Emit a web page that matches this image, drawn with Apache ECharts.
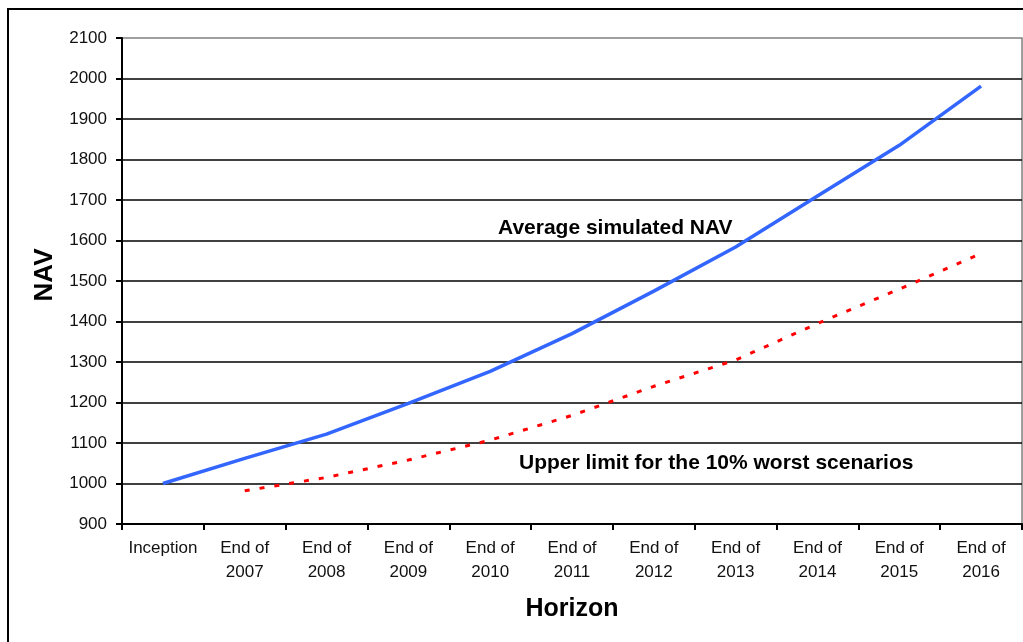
<!DOCTYPE html>
<html>
<head>
<meta charset="utf-8">
<script src="https://cdn.jsdelivr.net/npm/echarts@6/dist/echarts.min.js"></script>
<style>
  html, body { margin: 0; padding: 0; background: #fff; }
  #chart { width: 1023px; height: 642px; }
</style>
</head>
<body>
<div id="chart"></div>
<script>
// 横轴类别
const categories = ['Inception', 'End of\n2007', 'End of\n2008', 'End of\n2009', 'End of\n2010',
    'End of\n2011', 'End of\n2012', 'End of\n2013', 'End of\n2014', 'End of\n2015', 'End of\n2016'];

// 平均模拟净值
const averageNav = [1000, 1062, 1122, 1198, 1277, 1370, 1475, 1584, 1710, 1835, 1981];

// 最差10%情景上限 (起点无值)
const worstNav = [null, 982, 1015, 1058, 1107, 1168, 1240, 1305, 1395, 1480, 1568];

// 纵轴范围
const yMin = 900;
const yMax = 2100;
const yStep = 100;

const chart = echarts.init(document.getElementById('chart'));

const option = {
    animation: false,
    backgroundColor: '#fff',
    grid: {
        left: 122,
        right: 1,
        top: 38,
        bottom: 118,
        show: true,
        borderColor: '#808080',
        borderWidth: 1.5
    },
    xAxis: {
        type: 'category',
        data: categories,
        boundaryGap: true,
        name: 'Horizon',
        nameLocation: 'middle',
        nameGap: 73,
        nameTextStyle: {
            fontFamily: 'Liberation Sans, Arial, sans-serif',
            fontSize: 25,
            fontWeight: 'bold',
            color: '#000'
        },
        axisLine: { lineStyle: { color: '#000', width: 2 } },
        axisTick: { show: true, length: 6, lineStyle: { color: '#000', width: 2 } },
        axisLabel: {
            interval: 0,
            margin: 12,
            fontFamily: 'Liberation Sans, Arial, sans-serif',
            fontSize: 17,
            lineHeight: 24,
            color: '#111'
        },
        splitLine: { show: false }
    },
    yAxis: {
        type: 'value',
        min: yMin,
        max: yMax,
        interval: yStep,
        name: 'NAV',
        nameLocation: 'middle',
        nameGap: 61,
        nameTextStyle: {
            fontFamily: 'Liberation Sans, Arial, sans-serif',
            fontSize: 26,
            fontWeight: 'bold',
            color: '#000',
            padding: [0, 0, 0, 12]
        },
        axisLine: { show: true, lineStyle: { color: '#000', width: 2 } },
        axisTick: { show: true, length: 6, lineStyle: { color: '#000', width: 2 } },
        axisLabel: {
            margin: 15,
            fontFamily: 'Liberation Sans, Arial, sans-serif',
            fontSize: 17,
            color: '#111',
            formatter: function(v) { return String(v); }
        },
        splitLine: {
            show: true,
            showMaxLine: false,
            lineStyle: { color: '#000', width: 1.5 }
        }
    },
    series: [
        {
            name: 'Average simulated NAV',
            type: 'line',
            data: averageNav,
            symbol: 'none',
            lineStyle: { color: '#3366ff', width: 3.5 },
            z: 3
        },
        {
            name: 'Upper limit for the 10% worst scenarios',
            type: 'line',
            data: worstNav,
            symbol: 'none',
            lineStyle: { color: '#ff0000', width: 3, type: [5, 10] },
            z: 3
        }
    ],
    graphic: [
        {
            // 外框
            type: 'rect',
            shape: { x: 8, y: 9, width: 1200, height: 800 },
            style: { fill: 'none', stroke: '#000', lineWidth: 2 },
            silent: true
        },
        {
            type: 'text',
            left: 498,
            top: 218,
            style: {
                text: 'Average simulated NAV',
                fontFamily: 'Liberation Sans, Arial, sans-serif',
                fontSize: 21,
                fontWeight: 'bold',
                fill: '#000'
            }
        },
        {
            type: 'text',
            left: 519,
            top: 453,
            style: {
                text: 'Upper limit for the 10% worst scenarios',
                fontFamily: 'Liberation Sans, Arial, sans-serif',
                fontSize: 21,
                fontWeight: 'bold',
                fill: '#000'
            }
        }
    ]
};

chart.setOption(option);

window.addEventListener('resize', function() {
    chart.resize();
});
</script>
</body>
</html>
